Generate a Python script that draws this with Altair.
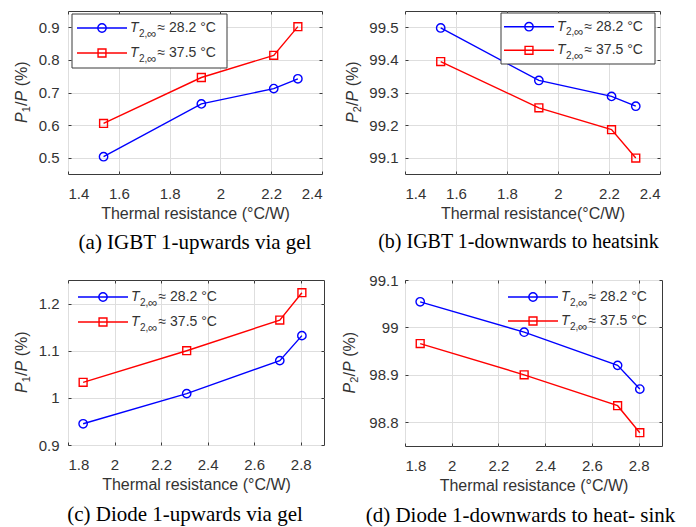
import altair as alt
import pandas as pd

# ---------------- data ----------------
series_keys = ["T28", "T37"]
series_colors = ["#0000ff", "#ff0000"]
series_shapes = ["circle", "square"]
legend_values = ["≈ 28.2 °C", "≈ 37.5 °C"]

x_ab = [1.54, 1.925, 2.21, 2.305]
a_28 = [0.503, 0.665, 0.712, 0.742]
a_37 = [0.605, 0.746, 0.814, 0.902]
b_28 = [99.498, 99.337, 99.288, 99.258]
b_37 = [99.395, 99.253, 99.186, 99.099]

x_cd = [1.865, 2.31, 2.71, 2.805]
c_28 = [0.945, 1.009, 1.079, 1.132]
c_37 = [1.033, 1.100, 1.165, 1.223]
d_28 = [99.054, 98.99, 98.92, 98.87]
d_37 = [98.966, 98.90, 98.835, 98.778]

xticks_ab = [1.4, 1.6, 1.8, 2.0, 2.2, 2.4]
xticks_cd = [1.8, 2.0, 2.2, 2.4, 2.6, 2.8]
yticks_a = [0.5, 0.6, 0.7, 0.8, 0.9]
yticks_b = [99.1, 99.2, 99.3, 99.4, 99.5]
yticks_c = [0.9, 1.0, 1.1, 1.2]
yticks_d = [98.8, 98.9, 99.0, 99.1]

captions = [
    "(a) IGBT 1-upwards via gel",
    "(b) IGBT 1-downwards to heatsink",
    "(c) Diode 1-upwards via gel",
    "(d) Diode 1-downwards to heat- sink",
]
x_titles = [
    "Thermal resistance (°C/W)",
    "Thermal resistance(°C/W)",
    "Thermal resistance (°C/W)",
    "Thermal resistance (°C/W)",
]
y_subs = ["1", "2", "1", "2"]

TXT = "#333333"
FRAME = "#3a3a3a"

panels = [
    dict(x=x_ab, y28=a_28, y37=a_37, xdom=[1.4, 2.4], ydom=[0.45, 0.95],
         xticks=xticks_ab, yticks=yticks_a, w=254, h=163, ylpad=9, ytx=-46,
         leg_x0=9, leg_rows=[17, 42], box=[4, 159, 3, 57], cap_dx=0, cap_off=11, cap_fs=21),
    dict(x=x_ab, y28=b_28, y37=b_37, xdom=[1.4, 2.4], ydom=[99.05, 99.55],
         xticks=xticks_ab, yticks=yticks_b, w=255, h=163, ylpad=7, ytx=-52,
         leg_x0=99, leg_rows=[15.7, 39.3], box=[96, 250, 2, 53], cap_dx=-14, cap_off=11, cap_fs=20),
    dict(x=x_cd, y28=c_28, y37=c_37, xdom=[1.8, 2.9], ydom=[0.9, 1.25],
         xticks=xticks_cd, yticks=yticks_c, w=256, h=165, ylpad=9, ytx=-46,
         leg_x0=10, leg_rows=[17, 42], box=None, cap_dx=-11, cap_off=12, cap_fs=21),
    dict(x=x_cd, y28=d_28, y37=d_37, xdom=[1.8, 2.9], ydom=[98.75, 99.1],
         xticks=xticks_cd, yticks=yticks_d, w=257, h=166, ylpad=7, ytx=-55,
         leg_x0=103, leg_rows=[17, 41], box=None, cap_dx=-13, cap_off=12, cap_fs=21),
]

one_row = pd.DataFrame({"k": [0]})


def legend_layers(p):
    layers = []
    if p["box"] is not None:
        bx0, bx1, by0, by1 = p["box"]
        layers.append(
            alt.Chart(one_row).mark_rect(fill="white", stroke=FRAME, strokeWidth=1).encode(
                x=alt.value(bx0), x2=alt.value(bx1), y=alt.value(by0), y2=alt.value(by1)))
    x0 = p["leg_x0"]
    for i in range(2):
        yc = p["leg_rows"][i]
        one = pd.DataFrame({"lab": [legend_values[i]]})
        c = alt.Chart(one)
        layers.append(c.mark_rule(color=series_colors[i], strokeWidth=1.4).encode(
            x=alt.value(x0), x2=alt.value(x0 + 50), y=alt.value(yc)))
        layers.append(c.mark_point(shape=series_shapes[i], filled=False, size=70 if i == 0 else 62,
                                   strokeWidth=1.4, color=series_colors[i], opacity=1).encode(
            x=alt.value(x0 + 25), y=alt.value(yc)))
        layers.append(c.mark_text(text="T", fontStyle="italic", fontSize=14, font="Liberation Sans",
                                  align="left", baseline="middle", color=TXT).encode(
            x=alt.value(x0 + 53), y=alt.value(yc)))
        layers.append(c.mark_text(text="2,", fontSize=10, font="Liberation Sans",
                                  align="left", baseline="middle", color=TXT).encode(
            x=alt.value(x0 + 62), y=alt.value(yc + 5.5)))
        layers.append(c.mark_text(text="∞", fontSize=13, font="Liberation Sans",
                                  align="left", baseline="middle", color=TXT).encode(
            x=alt.value(x0 + 70), y=alt.value(yc + 5.5)))
        layers.append(c.mark_text(fontSize=14, font="Liberation Sans",
                                  align="left", baseline="middle", color=TXT).encode(
            text="lab:N", x=alt.value(x0 + 80.5), y=alt.value(yc)))
    return layers


def ytitle_layers(p, sub):
    h = p["h"]
    tx = p["ytx"]
    yb = h / 2 + 30.6
    parts = [
        ("P", 16, "italic", 0, 0),
        (sub, 11, "normal", 10.9, 4.5),
        ("/", 16, "normal", 17.2, 0),
        ("P", 16, "italic", 21.6, 0),
        ("(%)", 16, "normal", 36.8, 0),
    ]
    layers = []
    c = alt.Chart(one_row)
    for txt, fs, style, off, dx in parts:
        layers.append(c.mark_text(text=txt, fontSize=fs, fontStyle=style, font="Liberation Sans",
                                  angle=270, align="left", baseline="middle", color=TXT).encode(
            x=alt.value(tx + dx), y=alt.value(yb - off)))
    return layers


def make_panel(idx):
    p = panels[idx]
    w, h = p["w"], p["h"]
    n = len(p["x"])
    df = pd.DataFrame({"x": list(p["x"]) * 2, "y": p["y28"] + p["y37"],
                       "s": ["T28"] * n + ["T37"] * n})
    xs = alt.Scale(domain=p["xdom"], nice=False, zero=False)
    ys = alt.Scale(domain=p["ydom"], nice=False, zero=False)
    col = alt.Color("s:N", scale=alt.Scale(domain=series_keys, range=series_colors), legend=None)
    tick_only = dict(labels=False, domain=False, grid=False, ticks=True, tickSize=3,
                     tickColor=FRAME, title=None)
    ax_x = alt.Axis(values=p["xticks"], format=".1~f", title=x_titles[idx], grid=True,
                    ticks=False, tickSize=0, domain=False, labelPadding=12, titlePadding=4)
    ax_y = alt.Axis(values=p["yticks"], format=".1~f", title=None, grid=True,
                    ticks=False, tickSize=0, domain=False, labelPadding=p["ylpad"])
    base = alt.Chart(df)
    line = base.mark_line(strokeWidth=1.4).encode(
        x=alt.X("x:Q", scale=xs, axis=ax_x),
        y=alt.Y("y:Q", scale=ys, axis=ax_y),
        color=col)
    circ = base.transform_filter("datum.s == 'T28'").mark_point(
        shape="circle", filled=False, size=70, strokeWidth=1.4, opacity=1).encode(
        x=alt.X("x:Q", scale=xs, axis=alt.Axis(orient="top", offset=-h, values=p["xticks"], **tick_only)),
        y=alt.Y("y:Q", scale=ys, axis=alt.Axis(orient="right", offset=-w, values=p["yticks"], **tick_only)),
        color=col)
    sq = base.transform_filter("datum.s == 'T37'").mark_point(
        shape="square", filled=False, size=62, strokeWidth=1.4, opacity=1).encode(
        x=alt.X("x:Q", scale=xs, axis=alt.Axis(orient="bottom", offset=-h, values=p["xticks"], **tick_only)),
        y=alt.Y("y:Q", scale=ys, axis=alt.Axis(orient="left", offset=-w, values=p["yticks"], **tick_only)),
        color=col)
    layers = [line, circ, sq] + legend_layers(p) + ytitle_layers(p, y_subs[idx])
    return alt.layer(*layers).properties(
        width=w, height=h,
        title=alt.TitleParams(captions[idx], orient="bottom", anchor="middle", frame="group",
                              font="Liberation Serif", fontSize=p["cap_fs"], fontWeight="normal",
                              color="black", offset=p["cap_off"], dx=p["cap_dx"]),
    ).resolve_axis(x="independent", y="independent")


chart = alt.concat(
    *[make_panel(i) for i in range(4)], columns=2,
    spacing=alt.RowColnumber(row=106, column=81),
).properties(
    bounds="flush",
    padding={"left": 5, "top": 2, "right": 4, "bottom": 0},
).configure_view(
    stroke=FRAME, strokeWidth=1
).configure_axis(
    labelFont="Liberation Sans", labelFontSize=15, labelColor=TXT,
    titleFont="Liberation Sans", titleFontSize=16, titleFontWeight="normal", titleColor=TXT,
    gridColor="#dedede", gridWidth=1,
)

chart.save("out.html", embed_options={"renderer": "svg", "actions": False})
